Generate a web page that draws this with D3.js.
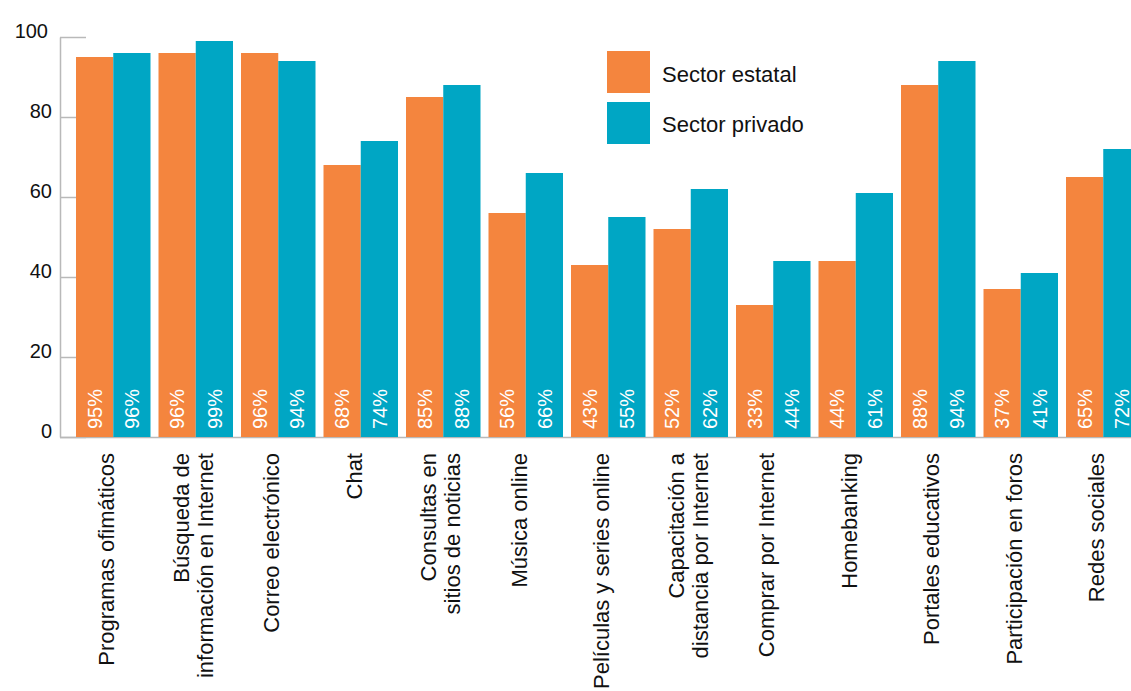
<!DOCTYPE html>
<html>
<head>
<meta charset="utf-8">
<script src="https://cdn.jsdelivr.net/npm/d3@7"></script>
<style>
  html, body { margin: 0; padding: 0; background: #ffffff; }
  svg { display: block; font-family: "Liberation Sans", Arial, Helvetica, sans-serif; }
</style>
</head>
<body>
<svg id="chart" width="1131" height="691"></svg>
<script>
// Uso de herramientas digitales por sector (%)
const categories = [
  ["Programas ofimáticos"],
  ["Búsqueda de", "información en Internet"],
  ["Correo electrónico"],
  ["Chat"],
  ["Consultas en", "sitios de noticias"],
  ["Música online"],
  ["Películas y series online"],
  ["Capacitación a", "distancia por Internet"],
  ["Comprar por Internet"],
  ["Homebanking"],
  ["Portales educativos"],
  ["Participación en foros"],
  ["Redes sociales"]
];
const seriesNames = ["Sector estatal", "Sector privado"];
const estatal = [95, 96, 96, 68, 85, 56, 43, 52, 33, 44, 88, 37, 65];
const privado = [96, 99, 94, 74, 88, 66, 55, 62, 44, 61, 94, 41, 72];
const yTicks = [0, 20, 40, 60, 80, 100];
const colors = ["#f4853e", "#00a6c4"];

const svg = d3.select("#chart");
const keys = categories.map((c, i) => i);
const rows = keys.map(i => ({ i, values: [estatal[i], privado[i]] }));

const axisX = 60, y0 = 437, yTop = 37;

const x = d3.scaleBand().domain(keys).range([76, 1140.5]).paddingInner(0.097).paddingOuter(0);
const xs = d3.scaleBand().domain([0, 1]).range([0, x.bandwidth()]).padding(0);
const y = d3.scaleLinear().domain([0, 100]).range([y0, yTop]);

const gridColor = "#b9b9b9";

// eje vertical con marcas hacia la derecha
const yAxis = d3.axisLeft(y).tickValues(yTicks).tickSizeInner(-26).tickSizeOuter(0).tickPadding(8);
const ga = svg.append("g").attr("transform", `translate(${axisX},0)`).call(yAxis);
ga.select(".domain").attr("stroke", gridColor).attr("stroke-width", 1.5);
ga.selectAll(".tick line").attr("stroke", gridColor).attr("stroke-width", 1.5);
ga.selectAll(".tick text")
  .attr("dy", 0)
  .attr("dx", d => d === 100 ? -4 : 0)
  .attr("fill", "#111")
  .style("font-size", "20px")
  .style("font-family", "'Liberation Sans', Arial, sans-serif");

// línea de base
svg.append("line")
  .attr("x1", axisX).attr("x2", 1131)
  .attr("y1", y(0) + 0.5).attr("y2", y(0) + 0.5)
  .attr("stroke", gridColor).attr("stroke-width", 1.5);

// barras
const groups = svg.append("g").selectAll("g").data(rows).join("g")
  .attr("transform", d => `translate(${x(d.i)},0)`);

groups.selectAll("rect").data(d => d.values.map((v, s) => ({ v, s }))).join("rect")
  .attr("x", d => xs(d.s))
  .attr("width", xs.bandwidth())
  .attr("y", d => y(d.v))
  .attr("height", d => y(0) - y(d.v))
  .attr("fill", d => colors[d.s]);

// etiquetas de valor dentro de las barras
groups.selectAll("text.val").data(d => d.values.map((v, s) => ({ v, s }))).join("text")
  .attr("class", "val")
  .attr("transform", d => `translate(${xs(d.s) + xs.bandwidth() / 2},${y(0) - 8}) rotate(-90)`)
  .attr("dy", "0.36em")
  .attr("text-anchor", "start")
  .attr("fill", "#ffffff")
  .style("font-size", "20px")
  .text(d => d.v + "%");

// etiquetas de categoría
const catG = svg.append("g").selectAll("text").data(rows).join("text")
  .attr("text-anchor", "end")
  .attr("fill", "#111")
  .style("font-size", "22px")
  .attr("transform", d => `translate(${x(d.i) + x.bandwidth() / 2},453) rotate(-90)`);

catG.each(function (d) {
  const lines = categories[d.i];
  const t = d3.select(this);
  const offs = lines.length === 1 ? [1] : [-7, 17];
  lines.forEach((ln, k) => {
    t.append("tspan").attr("x", 0).attr("y", offs[k]).text(ln);
  });
});

// leyenda
const leg = svg.append("g");
seriesNames.forEach((name, s) => {
  leg.append("rect")
    .attr("x", 607).attr("y", 51 + s * 51)
    .attr("width", 43).attr("height", 42)
    .attr("fill", colors[s]);
  leg.append("text")
    .attr("x", 662).attr("y", 81.5 + s * 50)
    .attr("fill", "#111")
    .style("font-size", "22px")
    .text(name);
});
</script>
</body>
</html>
